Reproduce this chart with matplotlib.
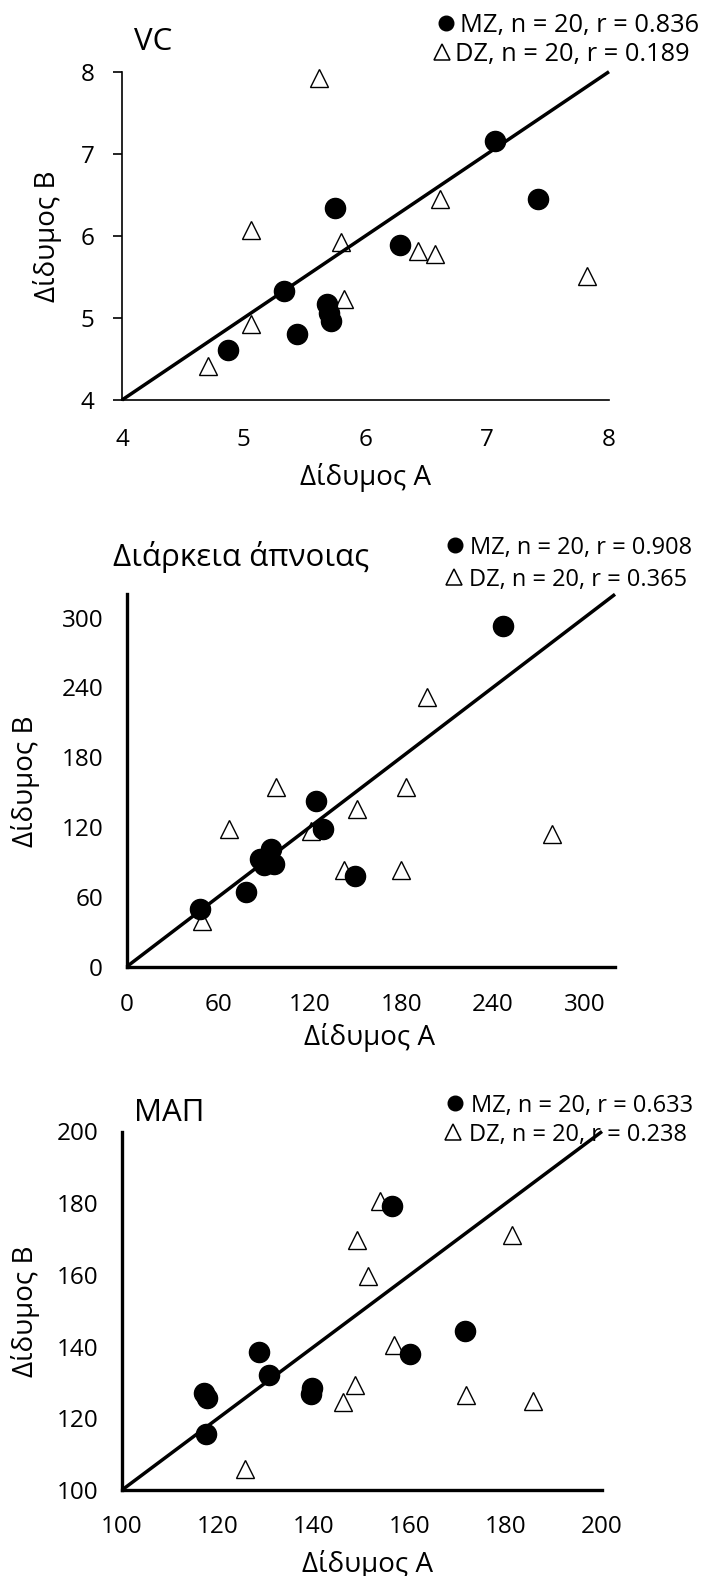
import matplotlib
matplotlib.use("Agg")
import matplotlib.pyplot as plt
from matplotlib.lines import Line2D

plt.rcParams['font.family'] = ['Open Sans', 'DejaVu Sans']

# ---------------- data ----------------
# Panel 1: VC
vc_mz_a = [4.87, 5.33, 5.44, 5.68, 5.70, 5.72, 5.75, 6.28, 7.06, 7.42]
vc_mz_b = [4.61, 5.33, 4.80, 5.17, 5.06, 4.96, 6.34, 5.89, 7.15, 6.45]
vc_dz_a = [5.62, 5.06, 5.80, 6.61, 6.43, 6.57, 7.82, 5.82, 5.06, 4.71]
vc_dz_b = [7.92, 6.07, 5.93, 6.45, 5.81, 5.78, 5.51, 5.23, 4.93, 4.41]
vc_ticks = [4, 5, 6, 7, 8]
vc_lim = [4, 8]

# Panel 2: apnea duration
ap_mz_a = [246.8, 123.8, 128.6, 94.7, 87.2, 90.2, 96.5, 149.6, 78.3, 48.0]
ap_mz_b = [292.6, 142.0, 118.5, 101.4, 92.9, 87.2, 88.0, 77.8, 64.5, 49.4]
ap_dz_a = [197.0, 97.8, 183.0, 150.8, 67.0, 121.0, 278.4, 142.7, 179.9, 49.3]
ap_dz_b = [232.0, 154.0, 154.0, 135.5, 118.5, 117.0, 114.2, 83.0, 83.0, 39.0]
ap_ticks = [0, 60, 120, 180, 240, 300]
ap_lim = [0, 320]

# Panel 3: MAP
map_mz_a = [156.3, 171.4, 160.0, 128.6, 130.6, 139.6, 139.4, 117.0, 117.7, 117.4]
map_mz_b = [179.1, 144.3, 138.0, 138.4, 132.1, 128.4, 126.7, 127.0, 125.6, 115.7]
map_dz_a = [153.7, 181.2, 149.0, 151.3, 156.6, 148.6, 146.1, 171.7, 185.7, 125.6]
map_dz_b = [180.5, 171.0, 169.6, 159.7, 140.5, 129.3, 124.6, 126.5, 124.9, 105.9]
map_ticks = [100, 120, 140, 160, 180, 200]
map_lim = [100, 200]

titles = ['VC', 'Διάρκεια άπνοιας', 'ΜΑΠ']
legend_labels = [
    ['MZ, n = 20, r = 0.836', 'DZ, n = 20, r = 0.189'],
    ['MZ, n = 20, r = 0.908', 'DZ, n = 20, r = 0.365'],
    ['MZ, n = 20, r = 0.633', 'DZ, n = 20, r = 0.238'],
]
xlabel = 'Δίδυμος Α'
ylabel = 'Δίδυμος Β'

# ---------------- layout ----------------
W, H = 705, 1576
fig = plt.figure(figsize=(W / 100, H / 100), dpi=100)


def fx(px):
    return px / W


def fy(py):
    return 1 - py / H


panels = [
    dict(mz=(vc_mz_a, vc_mz_b), dz=(vc_dz_a, vc_dz_b), lim=vc_lim, ticks=vc_ticks,
         rect=(122, 71.7, 609, 400), spine=1.2, ytick_len=6.8, xpad=20, ypad=13,
         title_xy=(153, 50), leg_fs=18.3, leg_ms=(10.5, 11),
         leg_rows=[(446, 460, 22.5), (442, 455, 52)],
         xlab_xy=(366, 485), ylab_xy=(48, 236)),
    dict(mz=(ap_mz_a, ap_mz_b), dz=(ap_dz_a, ap_dz_b), lim=ap_lim, ticks=ap_ticks,
         rect=(126.7, 594.3, 615, 966.7), spine=2.4, ytick_len=0, xpad=19, ypad=17,
         title_xy=(241, 566), leg_fs=17, leg_ms=(10.5, 11),
         leg_rows=[(455, 470, 545), (454, 469, 577)],
         xlab_xy=(370, 1045), ylab_xy=(26, 781)),
    dict(mz=(map_mz_a, map_mz_b), dz=(map_dz_a, map_dz_b), lim=map_lim, ticks=map_ticks,
         rect=(122, 1131.5, 602, 1490), spine=2.4, ytick_len=0, xpad=18, ypad=17,
         title_xy=(169, 1121), leg_fs=17, leg_ms=(10.5, 11),
         leg_rows=[(455, 471, 1103), (453, 469, 1132)],
         xlab_xy=(368, 1572), ylab_xy=(26, 1311)),
]

for i, p in enumerate(panels):
    l, t, r, b = p['rect']
    ax = fig.add_axes([fx(l), fy(b), (r - l) / W, (b - t) / H])
    ax.set_xlim(p['lim'])
    ax.set_ylim(p['lim'])
    for s in ('top', 'right'):
        ax.spines[s].set_visible(False)
    for s in ('left', 'bottom'):
        ax.spines[s].set_linewidth(p['spine'])
        ax.spines[s].set_color('black')

    ax.plot(p['dz'][0], p['dz'][1], ls='none', marker='^', ms=13.5,
            mfc='white', mec='black', mew=1.0, clip_on=False, zorder=3)
    ax.plot(p['mz'][0], p['mz'][1], ls='none', marker='o', ms=14.5,
            mfc='black', mec='black', clip_on=False, zorder=4)
    ax.plot(p['lim'], p['lim'], color='black', lw=2.5, zorder=5,
            clip_on=False, solid_capstyle='butt')

    ax.set_xticks(p['ticks'])
    ax.set_yticks(p['ticks'])
    ax.tick_params(axis='x', length=0, pad=p['xpad'], labelsize=17.5, colors='black')
    ax.tick_params(axis='y', length=p['ytick_len'], width=p['spine'], direction='out',
                   pad=p['ypad'], labelsize=17.5, colors='black')

    # title
    tx, ty = p['title_xy']
    fig.text(fx(tx), fy(ty), titles[i], ha='center', va='baseline', fontsize=22.5)

    # legend (manual)
    markers = [dict(marker='o', mfc='black', mec='black', ms=p['leg_ms'][0]),
               dict(marker='^', mfc='white', mec='black', mew=1.1, ms=p['leg_ms'][1])]
    for j, (mx, txx, yy) in enumerate(p['leg_rows']):
        fig.add_artist(Line2D([fx(mx)], [fy(yy)], transform=fig.transFigure,
                              ls='none', **markers[j]))
        fig.text(fx(txx), fy(yy), legend_labels[i][j], ha='left', va='center_baseline',
                 fontsize=p['leg_fs'])

    # axis labels
    lx, ly = p['xlab_xy']
    fig.text(fx(lx), fy(ly), xlabel, ha='center', va='baseline', fontsize=20)
    yx, yy = p['ylab_xy']
    fig.text(fx(yx), fy(yy), ylabel, ha='center', va='center', rotation=90, fontsize=20)

fig.savefig('out.png', dpi=100)
